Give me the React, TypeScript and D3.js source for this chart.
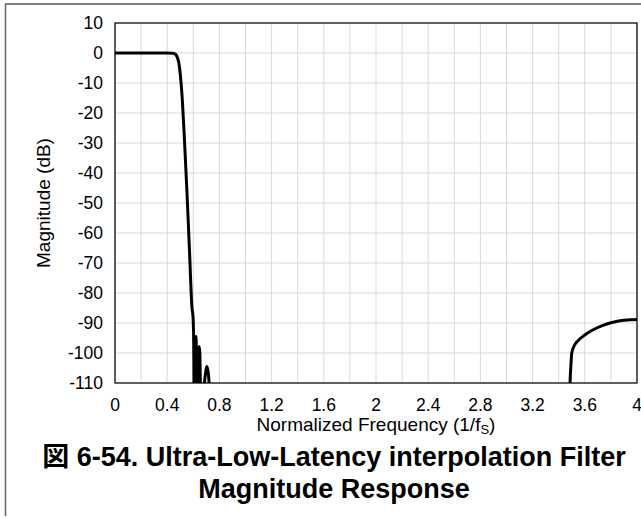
import React from "react";
import * as d3 from "d3";

const freq: number[] = [
  0, 0.1, 0.2, 0.3, 0.4, 0.44, 0.46, 0.475, 0.49, 0.5, 0.515, 0.53, 0.55, 0.57, 0.59,
  0.598, 0.603, 0.608, 0.615, 0.62, 0.626, 0.632, 0.64, 0.645, 0.65, 0.66, 0.69, 0.705,
  0.718, 0.735, 0.75, 2.0, 3.47, 3.487, 3.495, 3.5, 3.52, 3.55, 3.6, 3.65, 3.7, 3.75,
  3.8, 3.85, 3.9, 3.95, 4.0,
];
const magnitude: number[] = [
  0, 0, 0, 0, 0, -0.05, -0.3, -1.2, -3.5, -7, -15, -27, -45, -65, -85,
  -88, -96, -125, -100, -94.5, -105, -125, -100, -97.8, -100, -125, -108, -104.5,
  -108, -130, -150, -150, -150, -110, -103, -100, -97.5, -95.8, -94, -92.6, -91.5, -90.6,
  -89.9, -89.4, -89.1, -88.9, -88.8,
];
const xTicks: number[] = [0, 0.4, 0.8, 1.2, 1.6, 2, 2.4, 2.8, 3.2, 3.6, 4];
const yTicks: number[] = [10, 0, -10, -20, -30, -40, -50, -60, -70, -80, -90, -100, -110];

const W = 641;
const H = 518;
const L = 115;
const R = 637;
const T = 23;
const B = 383;
const FONT = "'Liberation Sans', Arial, 'Noto Sans CJK JP', sans-serif";

export default function App() {
  const x = d3.scaleLinear().domain([0, 4]).range([L, R]);
  const y = d3.scaleLinear().domain([-110, 10]).range([B, T]);
  const xGrid = d3.range(0, 21).map((i) => i * 0.2);
  const pts = freq.map((f, i) => [f, magnitude[i]] as [number, number]);
  const line = d3
    .line<[number, number]>()
    .x((d) => x(d[0]))
    .y((d) => y(d[1]))
    .curve(d3.curveMonotoneX);

  return (
    <svg
      width={W}
      height={H}
      style={{ position: "absolute", left: 0, top: 0, background: "#fff" }}
    >
      <defs>
        <clipPath id="plot">
          <rect x={L} y={T} width={R - L} height={B - T} />
        </clipPath>
      </defs>
      <line x1={5} x2={641} y1={4} y2={4} stroke="#808080" strokeWidth={2} />
      <line x1={5.5} x2={5.5} y1={4} y2={516} stroke="#666" strokeWidth={1.5} />
      {xGrid.map((v, i) => (
        <line key={"gx" + i} x1={x(v)} x2={x(v)} y1={T} y2={B} stroke="#d9d9d9" strokeWidth={1} />
      ))}
      {yTicks.map((v) => (
        <line key={"gy" + v} x1={L} x2={R} y1={y(v)} y2={y(v)} stroke="#d9d9d9" strokeWidth={1} />
      ))}
      <path
        d={line(pts) || ""}
        fill="none"
        stroke="#000"
        strokeWidth={3}
        strokeLinejoin="round"
        clipPath="url(#plot)"
      />
      <rect x={L} y={T} width={R - L} height={B - T} fill="none" stroke="#000" strokeWidth={1.2} />
      {yTicks.map((v) => (
        <text
          key={"ty" + v}
          x={103}
          y={y(v)}
          dy="0.35em"
          textAnchor="end"
          fontFamily={FONT}
          fontSize={17.5}
          fill="#000"
        >
          {v}
        </text>
      ))}
      {xTicks.map((v) => (
        <text
          key={"tx" + v}
          x={x(v)}
          y={410.5}
          textAnchor="middle"
          fontFamily={FONT}
          fontSize={17.5}
          fill="#000"
        >
          {v}
        </text>
      ))}
      <text
        x={376}
        y={431}
        textAnchor="middle"
        fontFamily={FONT}
        fontSize={19}
        fill="#000"
      >
        Normalized Frequency (1/f
        <tspan fontSize={13} dy={3}>S</tspan>
        <tspan dy={-3}>)</tspan>
      </text>
      <text
        transform={`translate(49.5,${(T + B) / 2}) rotate(-90)`}
        textAnchor="middle"
        fontFamily={FONT}
        fontSize={19}
        fill="#000"
      >
        Magnitude (dB)
      </text>
      <text
        x={334}
        y={466}
        textAnchor="middle"
        fontFamily={FONT}
        fontWeight="bold"
        fontSize={27}
        fill="#000"
      >
        図 6-54. Ultra-Low-Latency interpolation Filter
      </text>
      <text
        x={334}
        y={498}
        textAnchor="middle"
        fontFamily={FONT}
        fontWeight="bold"
        fontSize={27}
        fill="#000"
      >
        Magnitude Response
      </text>
    </svg>
  );
}
